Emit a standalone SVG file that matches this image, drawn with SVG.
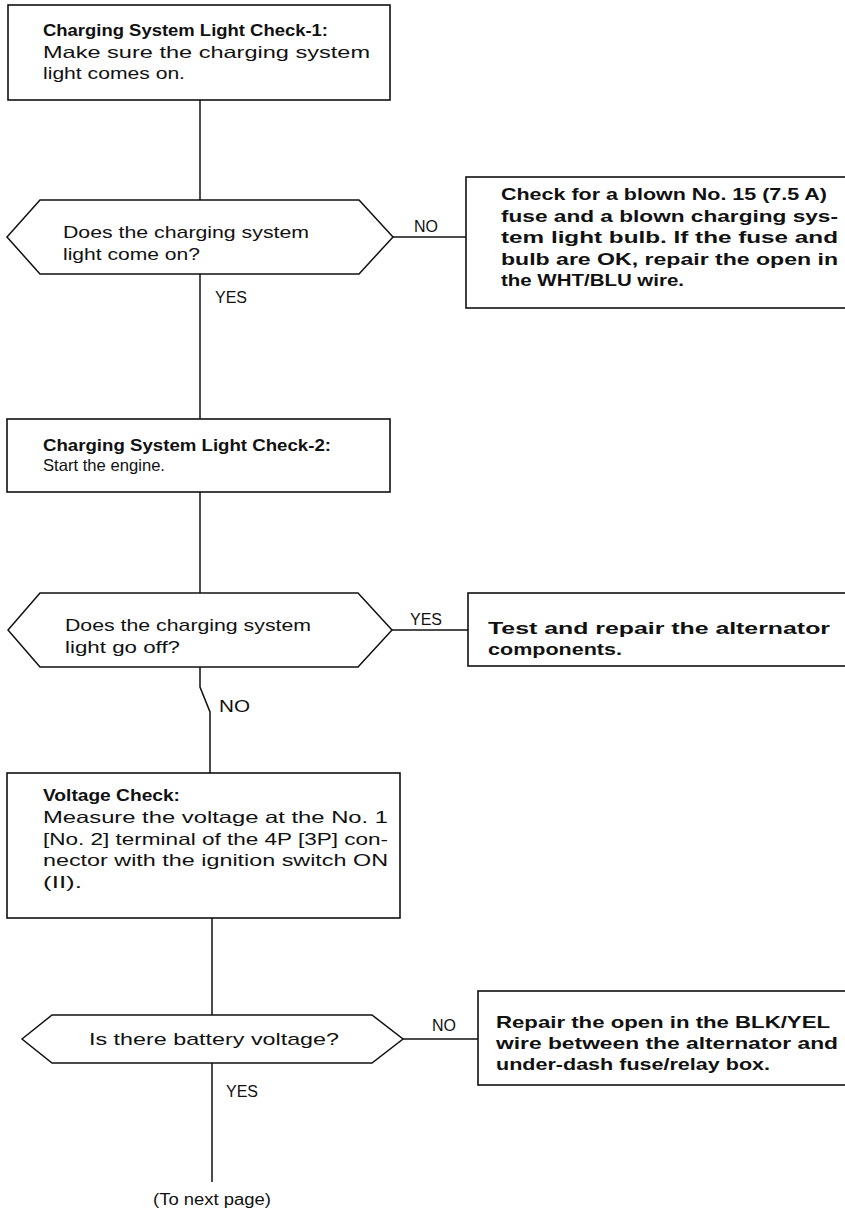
<svg xmlns="http://www.w3.org/2000/svg" width="845" height="1220" viewBox="0 0 845 1220">
<style>
.box{fill:#fff;stroke:#111;stroke-width:1.6}
.dec{fill:#fff;stroke:#111;stroke-width:1.5}
.ln{fill:none;stroke:#111;stroke-width:1.5}
.t{font-family:"Liberation Sans",Arial,sans-serif;font-size:16.5px;fill:#111}
.b{font-family:"Liberation Sans",Arial,sans-serif;font-size:16.5px;font-weight:bold;fill:#111}
.q{font-family:"Liberation Sans",Arial,sans-serif;font-size:17px;fill:#111}
.lb{font-family:"Liberation Sans",Arial,sans-serif;font-size:16px;fill:#111}
</style>
<rect width="845" height="1220" fill="#fff"/>
<g id="connectors">
<line class="ln" x1="200" y1="100" x2="200" y2="200"/>
<line class="ln" x1="200" y1="274" x2="200" y2="419"/>
<line class="ln" x1="393" y1="237" x2="466" y2="237"/>
<line class="ln" x1="200" y1="492" x2="200" y2="593"/>
<line class="ln" x1="392" y1="630" x2="468" y2="630"/>
<polyline class="ln" points="200,667 200,687 210,712 210,773"/>
<line class="ln" x1="212" y1="918" x2="212" y2="1015"/>
<line class="ln" x1="403" y1="1039" x2="478" y2="1039"/>
<line class="ln" x1="212" y1="1063" x2="212" y2="1182"/>
<text class="lb" x="414" y="232">NO</text>
<text class="lb" x="215" y="303">YES</text>
<text class="lb" x="410" y="625">YES</text>
<text class="lb" x="219" y="712" font-size="27" textLength="31" lengthAdjust="spacingAndGlyphs">NO</text>
<text class="lb" x="432" y="1031">NO</text>
<text class="lb" x="226" y="1097">YES</text>
<text class="lb" x="212" y="1205" text-anchor="middle" textLength="118" lengthAdjust="spacingAndGlyphs">(To next page)</text>
</g>
<g id="check1">
<rect class="box" x="8" y="5" width="382" height="95"/>
<text class="b" x="43" y="36" textLength="285" lengthAdjust="spacingAndGlyphs">Charging System Light Check-1:</text>
<text class="t" x="43" y="57.5" textLength="327" lengthAdjust="spacingAndGlyphs">Make sure the charging system</text>
<text class="t" x="43" y="79" textLength="142" lengthAdjust="spacingAndGlyphs">light comes on.</text>
</g>
<g id="q1">
<polygon class="dec" points="7,237 40,200 359,200 393,237 359,274 40,274"/>
<text class="q" x="63" y="238" textLength="246" lengthAdjust="spacingAndGlyphs">Does the charging system</text>
<text class="q" x="63" y="260" textLength="137" lengthAdjust="spacingAndGlyphs">light come on?</text>
</g>
<g id="fix1">
<rect class="box" x="466" y="177" width="381" height="131"/>
<text class="b" x="501" y="200" textLength="326" lengthAdjust="spacingAndGlyphs">Check for a blown No. 15 (7.5 A)</text>
<text class="b" x="501" y="221.5" textLength="337" lengthAdjust="spacingAndGlyphs">fuse and a blown charging sys-</text>
<text class="b" x="501" y="243" textLength="337" lengthAdjust="spacingAndGlyphs">tem light bulb. If the fuse and</text>
<text class="b" x="501" y="264.5" textLength="337" lengthAdjust="spacingAndGlyphs">bulb are OK, repair the open in</text>
<text class="b" x="501" y="286" textLength="183" lengthAdjust="spacingAndGlyphs">the WHT/BLU wire.</text>
</g>
<g id="check2">
<rect class="box" x="7" y="419" width="383" height="73"/>
<text class="b" x="43" y="451" textLength="288" lengthAdjust="spacingAndGlyphs">Charging System Light Check-2:</text>
<text class="t" x="43" y="471" textLength="122" lengthAdjust="spacingAndGlyphs">Start the engine.</text>
</g>
<g id="q2">
<polygon class="dec" points="8,630 40,593 358,593 392,630 358,667 40,667"/>
<text class="q" x="65" y="631" textLength="246" lengthAdjust="spacingAndGlyphs">Does the charging system</text>
<text class="q" x="65" y="653" textLength="115" lengthAdjust="spacingAndGlyphs">light go off?</text>
</g>
<g id="fix2">
<rect class="box" x="468" y="593" width="379" height="73"/>
<text class="b" x="488" y="634" textLength="342" lengthAdjust="spacingAndGlyphs">Test and repair the alternator</text>
<text class="b" x="488" y="655" textLength="134" lengthAdjust="spacingAndGlyphs">components.</text>
</g>
<g id="check3">
<rect class="box" x="7" y="773" width="393" height="145"/>
<text class="b" x="43" y="801" textLength="137" lengthAdjust="spacingAndGlyphs">Voltage Check:</text>
<text class="t" x="43" y="823" textLength="345" lengthAdjust="spacingAndGlyphs">Measure the voltage at the No. 1</text>
<text class="t" x="43" y="844.5" textLength="345" lengthAdjust="spacingAndGlyphs">[No. 2] terminal of the 4P [3P] con-</text>
<text class="t" x="43" y="866" textLength="345" lengthAdjust="spacingAndGlyphs">nector with the ignition switch ON</text>
<text class="t" x="43" y="887.5" textLength="39" lengthAdjust="spacingAndGlyphs">(II).</text>
</g>
<g id="q3">
<polygon class="dec" points="22,1039 52,1015 372,1015 403,1039 372,1063 52,1063"/>
<text class="q" x="89" y="1045" textLength="250" lengthAdjust="spacingAndGlyphs">Is there battery voltage?</text>
</g>
<g id="fix3">
<rect class="box" x="478" y="991" width="369" height="94"/>
<text class="b" x="496" y="1028" textLength="334" lengthAdjust="spacingAndGlyphs">Repair the open in the BLK/YEL</text>
<text class="b" x="496" y="1049" textLength="342" lengthAdjust="spacingAndGlyphs">wire between the alternator and</text>
<text class="b" x="496" y="1070" textLength="274" lengthAdjust="spacingAndGlyphs">under-dash fuse/relay box.</text>
</g>
</svg>
